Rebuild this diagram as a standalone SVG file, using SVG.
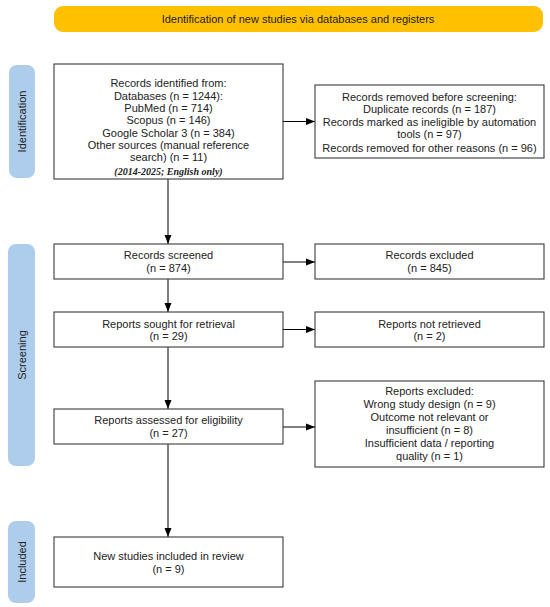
<svg xmlns="http://www.w3.org/2000/svg" width="550" height="607" viewBox="0 0 550 607">
<defs>
<style>
.box{fill:#fff;stroke:#3a3a3a;stroke-width:1.1}
.lbl{fill:#aecdec}
.t{font-family:"Liberation Sans",Arial,sans-serif;font-size:11px;fill:#222;text-anchor:middle}
.it{font-family:"Liberation Serif","Times New Roman",serif;font-size:10px;font-style:italic;font-weight:bold;fill:#222;text-anchor:middle}
.c{stroke:#000;stroke-width:1;fill:none}
</style>
<marker id="ah" viewBox="0 0 10 10" refX="10" refY="5" markerWidth="9" markerHeight="9" markerUnits="userSpaceOnUse" orient="auto">
<path d="M0,1.2 L10,5 L0,8.8 z" fill="#000"/>
</marker>
</defs>
<rect width="550" height="607" fill="#fff"/>

<g id="banner">
<rect x="54" y="6" width="489" height="26" rx="9" fill="#ffc000"/>
<text class="t" x="298" y="23">Identification of new studies via databases and registers</text>
</g>

<g id="label-identification">
<rect class="lbl" x="9" y="65" width="26" height="113" rx="8"/>
<text class="t" transform="translate(26,121.5) rotate(-90)">Identification</text>
</g>
<g id="label-screening">
<rect class="lbl" x="8" y="244" width="27" height="222" rx="8"/>
<text class="t" transform="translate(26,355) rotate(-90)">Screening</text>
</g>
<g id="label-included">
<rect class="lbl" x="8" y="521" width="27" height="82" rx="8"/>
<text class="t" transform="translate(26,562) rotate(-90)">Included</text>
</g>

<g id="connectors">
<line class="c" x1="283" y1="121.5" x2="315" y2="121.5" marker-end="url(#ah)"/>
<line class="c" x1="283" y1="262" x2="315" y2="262" marker-end="url(#ah)"/>
<line class="c" x1="283" y1="329.5" x2="315" y2="329.5" marker-end="url(#ah)"/>
<line class="c" x1="283" y1="427" x2="315" y2="427" marker-end="url(#ah)"/>
<line class="c" x1="168" y1="179" x2="168" y2="244" marker-end="url(#ah)"/>
<line class="c" x1="168" y1="279" x2="168" y2="312" marker-end="url(#ah)"/>
<line class="c" x1="168" y1="347" x2="168" y2="409" marker-end="url(#ah)"/>
<line class="c" x1="168" y1="444" x2="168" y2="537" marker-end="url(#ah)"/>
</g>

<g id="records-identified">
<rect class="box" x="54" y="64" width="229" height="115"/>
<text class="t" x="168.5" y="87">Records identified from:</text>
<text class="t" x="168.5" y="99.5">Databases (n = 1244):</text>
<text class="t" x="168.5" y="112">PubMed (n = 714)</text>
<text class="t" x="168.5" y="124">Scopus (n = 146)</text>
<text class="t" x="168.5" y="136.5">Google Scholar 3 (n = 384)</text>
<text class="t" x="168.5" y="149">Other sources (manual reference</text>
<text class="t" x="168.5" y="161">search) (n = 11)</text>
<text class="it" x="168.5" y="175">(2014-2025; English only)</text>
</g>

<g id="records-removed">
<rect class="box" x="315" y="85" width="229" height="73"/>
<text class="t" x="429.5" y="100.5">Records removed before screening:</text>
<text class="t" x="429.5" y="112.5">Duplicate records (n = 187)</text>
<text class="t" x="429.5" y="125.5">Records marked as ineligible by automation</text>
<text class="t" x="429.5" y="138">tools (n = 97)</text>
<text class="t" x="429.5" y="151.5">Records removed for other reasons (n = 96)</text>
</g>

<g id="records-screened">
<rect class="box" x="54" y="244" width="229" height="35"/>
<text class="t" x="168.5" y="259">Records screened</text>
<text class="t" x="168.5" y="271.5">(n = 874)</text>
</g>

<g id="records-excluded">
<rect class="box" x="315" y="244" width="229" height="35"/>
<text class="t" x="429.5" y="259">Records excluded</text>
<text class="t" x="429.5" y="271.5">(n = 845)</text>
</g>

<g id="reports-sought">
<rect class="box" x="54" y="312" width="229" height="35"/>
<text class="t" x="168.5" y="327.5">Reports sought for retrieval</text>
<text class="t" x="168.5" y="340">(n = 29)</text>
</g>

<g id="reports-not-retrieved">
<rect class="box" x="315" y="312" width="229" height="35"/>
<text class="t" x="429.5" y="327.5">Reports not retrieved</text>
<text class="t" x="429.5" y="340">(n = 2)</text>
</g>

<g id="reports-assessed">
<rect class="box" x="54" y="409" width="229" height="35"/>
<text class="t" x="168.5" y="424">Reports assessed for eligibility</text>
<text class="t" x="168.5" y="437">(n = 27)</text>
</g>

<g id="reports-excluded">
<rect class="box" x="315" y="381" width="229" height="86"/>
<text class="t" x="429.5" y="395">Reports excluded:</text>
<text class="t" x="429.5" y="407.5">Wrong study design (n = 9)</text>
<text class="t" x="429.5" y="420.5">Outcome not relevant or</text>
<text class="t" x="429.5" y="434">insufficient (n = 8)</text>
<text class="t" x="429.5" y="446.5">Insufficient data / reporting</text>
<text class="t" x="429.5" y="460">quality (n = 1)</text>
</g>

<g id="studies-included">
<rect class="box" x="54" y="537" width="229" height="50"/>
<text class="t" x="168.5" y="560">New studies included in review</text>
<text class="t" x="168.5" y="573">(n = 9)</text>
</g>
</svg>
